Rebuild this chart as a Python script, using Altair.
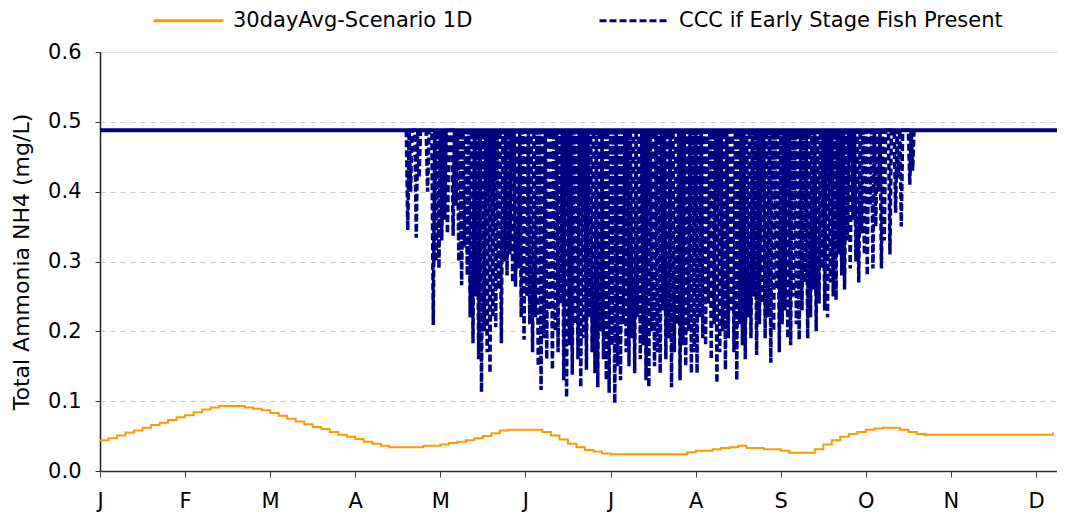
import altair as alt
import pandas as pd

FONT = "DejaVu Sans"
S_AVG = "30dayAvg-Scenario 1D"
S_CCC = "CCC if Early Stage Fish Present"

# x axis: day of year, month ticks every 30 days
month_labels = ["J", "F", "M", "A", "M", "J", "J", "A", "S", "O", "N", "D"]
month_tick_days = [0, 30, 60, 90, 120, 150, 180, 210, 240, 270, 300, 330]
x_domain = [0, 337.4]
y_ticks = [0.0, 0.1, 0.2, 0.3, 0.4, 0.5, 0.6]

# 30-day average (orange), sampled every 3 days
avg_days = list(range(0, 337, 3))
avg_values = [
    0.044, 0.047, 0.051, 0.055, 0.058, 0.062, 0.066, 0.069, 0.073, 0.077,
    0.080, 0.084, 0.088, 0.091, 0.093, 0.093, 0.093, 0.091, 0.089, 0.087,
    0.083, 0.079, 0.075, 0.071, 0.067, 0.063, 0.060, 0.056, 0.052, 0.049,
    0.046, 0.042, 0.039, 0.036, 0.034, 0.034, 0.034, 0.034, 0.036, 0.036,
    0.038, 0.040, 0.042, 0.044, 0.047, 0.050, 0.054, 0.058, 0.059, 0.059,
    0.059, 0.059, 0.056, 0.051, 0.045, 0.039, 0.034, 0.030, 0.028, 0.025,
    0.024, 0.024, 0.024, 0.024, 0.024, 0.024, 0.024, 0.024, 0.024, 0.027,
    0.029, 0.029, 0.031, 0.033, 0.034, 0.036, 0.033, 0.033, 0.031, 0.031,
    0.029, 0.026, 0.026, 0.026, 0.031, 0.038, 0.044, 0.049, 0.053, 0.056,
    0.059, 0.061, 0.062, 0.062, 0.059, 0.056, 0.053,
    0.052, 0.052, 0.052, 0.052, 0.052, 0.052, 0.052, 0.052, 0.052, 0.052,
    0.052, 0.052, 0.052, 0.052, 0.052,
    0.055,
]

# CCC (navy): plateau value and daily minimum during the warm season
ccc_plateau = 0.488
ccc_first_day = 108
ccc_daily_min = [
    0.345, 0.40, 0.488, 0.334, 0.42, 0.488, 0.488, 0.40, 0.488, 0.209,
    0.30, 0.29, 0.33, 0.36, 0.34, 0.488, 0.337, 0.38, 0.30, 0.266,
    0.32, 0.28, 0.22, 0.183, 0.25, 0.16, 0.113, 0.20, 0.17, 0.14,
    0.22, 0.206, 0.26, 0.183, 0.30, 0.28, 0.31, 0.27, 0.264, 0.29,
    0.22, 0.188, 0.25, 0.21, 0.17, 0.22, 0.15, 0.116, 0.19, 0.16,
    0.23, 0.145, 0.20, 0.17, 0.24, 0.13, 0.105, 0.18, 0.138, 0.21,
    0.16, 0.12, 0.19, 0.145, 0.22, 0.17, 0.14, 0.12, 0.20, 0.16,
    0.13, 0.112, 0.18, 0.097, 0.15, 0.13, 0.21, 0.17, 0.15, 0.19,
    0.14, 0.22, 0.16, 0.18, 0.13, 0.12, 0.20, 0.15, 0.17, 0.14,
    0.23, 0.16, 0.19, 0.12, 0.17, 0.21, 0.13, 0.18, 0.15, 0.20,
    0.14, 0.17, 0.14, 0.22, 0.19, 0.18, 0.24, 0.16, 0.21, 0.126,
    0.17, 0.20, 0.145, 0.19, 0.23, 0.17, 0.13, 0.21, 0.18, 0.16,
    0.22, 0.19, 0.25, 0.166, 0.21, 0.24, 0.19, 0.22, 0.155, 0.20,
    0.26, 0.17, 0.21, 0.23, 0.19, 0.18, 0.25, 0.21, 0.188, 0.23,
    0.27, 0.19, 0.22, 0.26, 0.20, 0.24, 0.29, 0.23, 0.22, 0.27,
    0.25, 0.245, 0.31, 0.28, 0.26, 0.33, 0.29, 0.36, 0.30, 0.27,
    0.34, 0.31, 0.28, 0.38, 0.29, 0.35, 0.40, 0.29, 0.33, 0.488,
    0.31, 0.488, 0.37, 0.42, 0.35, 0.488, 0.488, 0.41, 0.43,
]

# ---- tables ----
avg_df = pd.DataFrame({"day": avg_days, "value": avg_values, "series": S_AVG})

ccc_rows = []
for i, m in enumerate(ccc_daily_min):
    d = ccc_first_day + i
    ccc_rows.append({"day": d, "value": ccc_plateau, "series": S_CCC})
    ccc_rows.append({"day": d + 0.5, "value": m, "series": S_CCC})
ccc_rows.append({"day": ccc_first_day + len(ccc_daily_min), "value": ccc_plateau, "series": S_CCC})
ccc_df = pd.DataFrame(ccc_rows)

plateau_df = pd.DataFrame({"day": x_domain, "value": [ccc_plateau, ccc_plateau]})

label_expr = "[" + ",".join("'" + m + "'" for m in month_labels) + "][round(datum.value/30)]"

x_enc = alt.X(
    "day:Q",
    scale=alt.Scale(domain=x_domain, nice=False, zero=False),
    axis=alt.Axis(
        values=month_tick_days,
        labelExpr=label_expr,
        title=None,
        grid=False,
        tickSize=6,
        tickColor="#404040",
        domainColor="#303030",
        domainWidth=1.5,
        labelFont=FONT,
        labelFontSize=21,
        labelColor="black",
        labelPadding=13,
        labelFlush=False,
        labelOverlap=False,
    ),
)

y_enc = alt.Y(
    "value:Q",
    scale=alt.Scale(domain=[0, 0.6], nice=False),
    axis=alt.Axis(
        values=y_ticks,
        format=".1f",
        title="Total Ammonia NH4 (mg/L)",
        titleFont=FONT,
        titleFontSize=22,
        titleFontWeight="normal",
        titleColor="black",
        titlePadding=14,
        grid=True,
        gridColor="#c8c8c8",
        gridWidth=1,
        gridDash={"condition": {"test": "datum.value >= 0.59", "value": [1, 0]}, "value": [5, 5]},
        tickSize=5,
        tickColor="#303030",
        domainColor="#202020",
        domainWidth=1.5,
        labelFont=FONT,
        labelFontSize=21,
        labelColor="black",
        labelPadding=14,
    ),
)

color_scale = alt.Scale(domain=[S_AVG, S_CCC], range=["#FF9900", "#000080"])
dash_scale = alt.Scale(domain=[S_AVG, S_CCC], range=[[1, 0], [7, 3]])
legend = alt.Legend(
    title=None,
    orient="none",
    legendX=52,
    legendY=-68,
    direction="horizontal",
    symbolType="stroke",
    symbolSize=4900,
    symbolStrokeWidth=3,
    labelFont=FONT,
    labelFontSize=21,
    labelColor="black",
    labelLimit=600,
    labelOffset=8,
    columnPadding=120,
)

plateau = alt.Chart(plateau_df).mark_line(color="#000080", strokeWidth=4).encode(
    x=x_enc, y=y_enc
)

ccc = alt.Chart(ccc_df).mark_line(strokeWidth=3.5).encode(
    x=x_enc,
    y=y_enc,
    color=alt.Color("series:N", scale=color_scale, legend=legend),
    strokeDash=alt.StrokeDash("series:N", scale=dash_scale, legend=legend),
)

avg = alt.Chart(avg_df).mark_line(strokeWidth=2, interpolate="step-after").encode(
    x=x_enc,
    y=y_enc,
    color=alt.Color("series:N", scale=color_scale, legend=legend),
    strokeDash=alt.StrokeDash("series:N", scale=dash_scale, legend=legend),
)

chart = (
    alt.layer(plateau, ccc, avg)
    .properties(
        width=957,
        height=419,
        padding={"left": 92, "top": 44, "right": 0, "bottom": 44},
        autosize=alt.AutoSizeParams(type="none"),
        background="white",
    )
    .configure_view(stroke=None)
)

chart.save("out.html", embed_options={"renderer": "svg", "actions": False})
